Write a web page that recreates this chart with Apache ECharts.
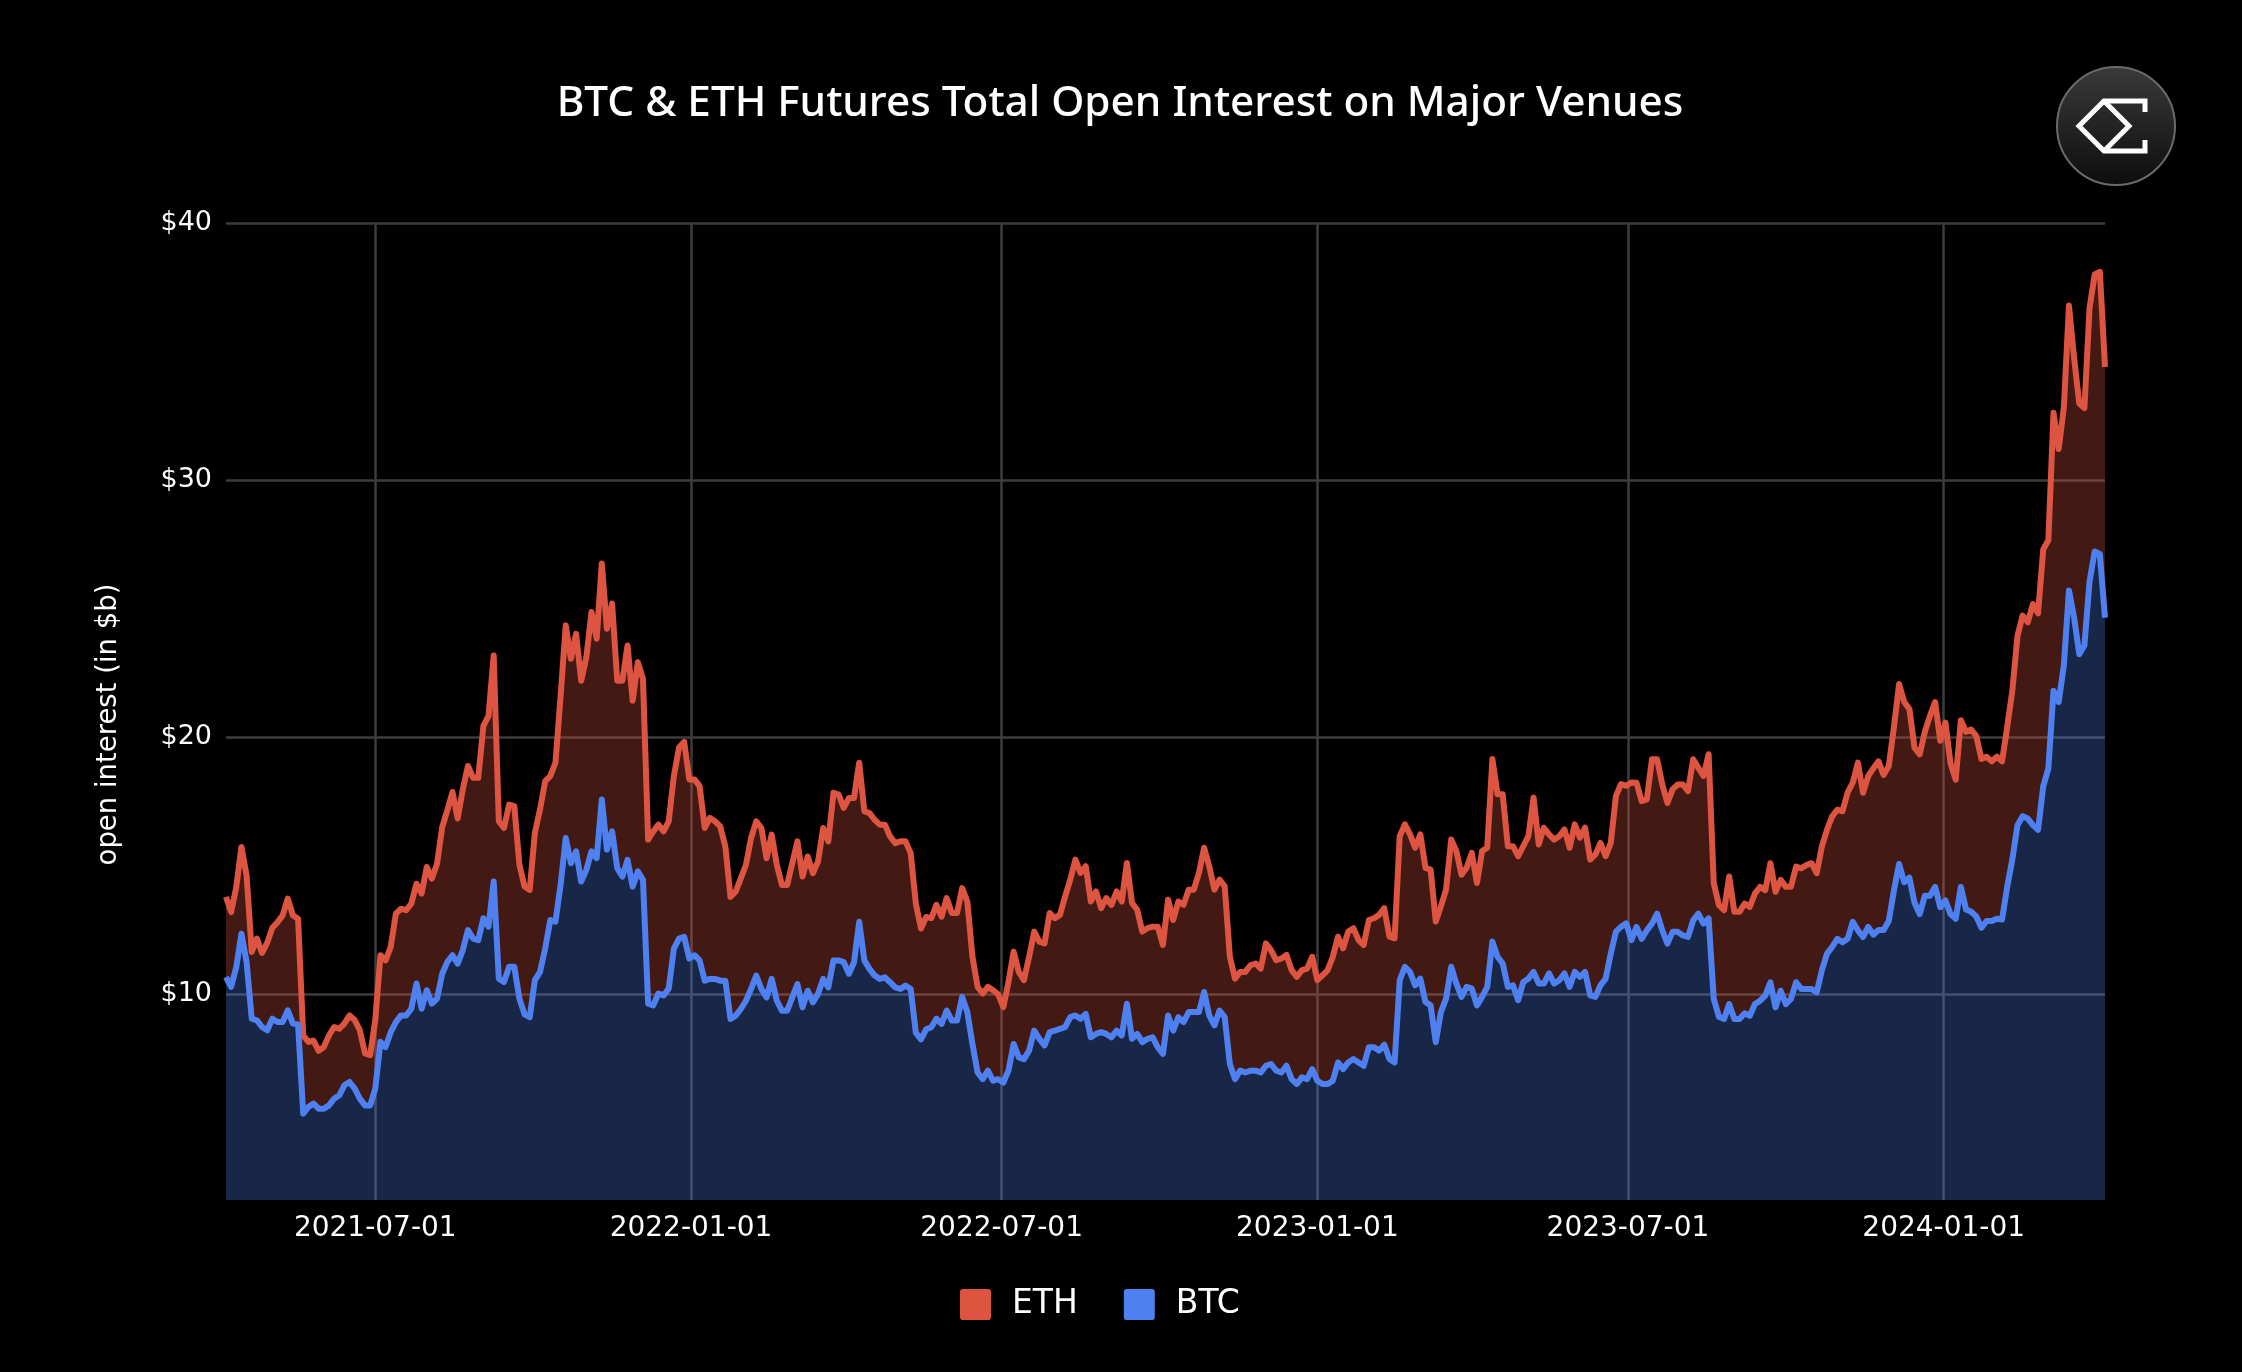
<!DOCTYPE html>
<html>
<head>
<meta charset="utf-8">
<style>html,body{margin:0;padding:0;background:#000}#c{width:2242px;height:1372px}</style>
<script src="https://cdn.jsdelivr.net/npm/echarts@6/dist/echarts.min.js"></script>
</head>
<body>
<div id="c"></div>
<script>
const titleText = 'BTC & ETH Futures Total Open Interest on Major Venues';
const yAxisName = 'open interest (in $b)';
const seriesNames = ['ETH', 'BTC'];
const xTickDates = ['2021-07-01','2022-01-01','2022-07-01','2023-01-01','2023-07-01','2024-01-01'];
const yTickValues = [10, 20, 30, 40];
const firstDate = '2021-04-05';
const sampleStepDays = 3;

// top of the stack ($b)
const stackTop = [
13.79,13.2,14.18,15.73,14.63,11.65,12.17,11.61,12.0,12.59,12.8,13.07,13.72,13.07,12.94,8.4,8.15,8.2,7.8,7.95,8.4,8.73,8.66,8.86,9.18,9.0,8.6,7.7,7.63,9.0,11.52,11.32,11.84,13.14,13.33,13.27,13.53,14.3,13.92,14.95,14.5,15.08,16.5,17.16,17.87,16.84,
17.97,18.88,18.42,18.42,20.44,20.83,23.18,16.73,16.47,17.38,17.32,15.04,14.19,14.06,16.28,17.19,18.29,18.49,19.01,21.61,24.35,23.05,24.02,22.2,23.11,24.87,23.83,26.76,24.22,25.2,22.2,22.2,23.57,21.42,22.92,22.27,16.02,16.34,16.6,16.34,16.73,18.49,19.6,19.82,18.36,18.36,
18.1,16.47,16.86,16.73,16.53,15.75,13.79,13.99,14.51,15.03,16.08,16.73,16.47,15.29,16.21,15.03,14.25,14.25,15.1,15.95,14.58,15.36,14.71,15.16,16.47,15.95,17.84,17.77,17.25,17.64,17.64,19.01,17.12,17.05,16.79,16.6,16.6,16.14,15.88,15.95,15.95,15.49,13.53,12.56,13.01,
12.96,13.48,13.02,13.74,13.16,13.16,14.13,13.61,11.46,10.29,10.03,10.29,10.16,10,9.5,10.48,11.66,10.87,10.55,11.46,12.44,12.05,11.98,13.16,12.96,13.09,13.81,14.46,15.24,14.72,14.98,13.61,14.0,13.35,13.74,13.48,14.0,13.61,15.11,13.55,13.29,12.44,12.57,12.63,12.63,11.92,
13.68,12.89,13.61,13.48,14.07,14.07,14.72,15.7,14.98,14.07,14.46,14.2,11.46,10.61,10.87,10.87,11.13,11.2,11.0,11.98,11.72,11.33,11.39,11.53,10.94,10.68,10.94,11.0,11.46,10.55,10.74,10.94,11.46,12.24,11.79,12.44,12.57,12.11,11.92,12.89,12.96,13.09,13.35,12.24,12.18,16.15,
16.61,16.22,15.7,16.22,14.92,14.85,12.83,13.42,14.07,16.02,15.57,14.65,14.92,15.5,14.33,15.57,15.7,19.15,17.78,17.78,15.76,15.76,15.37,15.76,16.15,17.65,15.83,16.48,16.22,16.02,16.15,16.41,15.7,16.61,16.09,16.48,15.24,15.44,15.89,15.37,15.89,17.72,18.18,18.11,18.24,
18.23,17.51,17.58,19.14,19.14,18.16,17.44,17.97,18.16,18.16,17.9,19.14,18.81,18.49,19.34,14.32,13.47,13.27,14.58,13.21,13.21,13.53,13.4,13.92,14.18,14.05,15.1,13.99,14.45,14.18,14.18,14.97,14.9,15.03,15.1,14.71,15.75,16.4,16.92,17.18,17.12,17.84,18.23,19.01,17.84,18.49,
18.79,19.06,18.53,18.88,20.39,22.07,21.37,21.1,19.59,19.33,20.21,20.83,21.37,19.86,20.57,18.97,18.35,20.66,20.21,20.3,20.04,19.15,19.24,19.06,19.24,19.06,20.39,21.81,23.94,24.73,24.47,25.18,24.82,27.3,27.66,32.62,31.21,32.8,36.79,34.75,32.98,32.8,36.7,38.0,38.1,34.4
];

const btcValues = [
10.67,10.29,11.06,12.36,11.26,9.05,8.99,8.73,8.6,9.05,8.92,8.92,9.38,8.86,8.83,5.36,5.62,5.75,5.55,5.55,5.68,5.94,6.07,6.46,6.59,6.33,5.94,5.68,5.68,6.33,8.15,7.95,8.53,8.92,9.18,9.18,9.44,10.42,9.44,10.16,9.64,9.83,10.8,11.26,11.52,11.19,
11.72,12.5,12.17,12.11,12.96,12.63,14.39,10.61,10.48,11.07,11.07,9.83,9.22,9.11,10.55,10.87,11.78,12.89,12.83,14.26,16.08,15.1,15.56,14.39,14.84,15.56,15.3,17.58,15.63,16.34,14.91,14.58,15.23,14.19,14.78,14.45,9.64,9.57,10.03,9.96,10.22,11.78,12.17,12.24,11.39,11.52,
11.32,10.53,10.6,10.6,10.53,10.53,9.04,9.17,9.43,9.75,10.21,10.73,10.21,9.88,10.6,9.75,9.36,9.36,9.88,10.4,9.49,10.14,9.69,10.01,10.6,10.27,11.32,11.32,11.25,10.8,11.25,12.82,11.32,10.99,10.73,10.6,10.66,10.47,10.27,10.21,10.34,10.21,8.51,8.25,8.64,
8.72,9.05,8.85,9.37,8.98,8.98,9.9,9.31,8.07,6.96,6.7,7.03,6.64,6.7,6.57,7.03,8.07,7.55,7.48,7.81,8.59,8.27,8.01,8.53,8.59,8.66,8.72,9.11,9.18,9.05,9.24,8.33,8.46,8.53,8.46,8.33,8.59,8.4,9.63,8.27,8.46,8.14,8.27,8.33,7.94,7.68,
9.18,8.59,9.11,8.92,9.31,9.31,9.31,10.09,9.18,8.79,9.37,9.11,7.29,6.7,7.03,6.96,7.03,7.03,6.96,7.22,7.29,7.03,6.96,7.22,6.7,6.51,6.77,6.7,7.09,6.64,6.51,6.51,6.64,7.35,7.09,7.35,7.48,7.35,7.22,7.94,7.94,7.81,8.04,7.48,7.35,10.55,
11.07,10.87,10.35,10.61,9.7,9.57,8.14,9.31,9.83,11.07,10.42,9.9,10.29,10.22,9.57,9.9,10.29,12.05,11.46,11.2,10.29,10.35,9.77,10.48,10.61,10.87,10.42,10.42,10.81,10.42,10.55,10.81,10.29,10.87,10.68,10.87,9.96,9.9,10.35,10.61,11.59,12.44,12.63,12.76,12.11,
12.62,12.16,12.49,12.75,13.14,12.49,11.97,12.43,12.43,12.29,12.23,12.88,13.14,12.75,12.95,9.82,9.13,9.04,9.62,9.04,9.04,9.26,9.17,9.62,9.75,9.95,10.47,9.49,10.14,9.62,9.82,10.47,10.21,10.21,10.21,10.08,10.93,11.58,11.84,12.16,12.03,12.16,12.82,12.49,12.23,12.62,
12.32,12.5,12.5,12.85,14.04,15.07,14.36,14.54,13.56,13.12,13.83,13.83,14.18,13.39,13.65,13.12,12.94,14.18,13.3,13.21,13.03,12.59,12.85,12.85,12.94,12.91,14.18,15.25,16.58,16.93,16.84,16.58,16.4,18.09,18.79,21.81,21.37,22.78,25.71,24.65,23.23,23.58,26.06,27.22,27.13,24.65
];

const DAY = 86400000;
const t0 = Date.parse(firstDate + 'T00:00:00Z');
const dates = btcValues.map((_, i) => t0 + i * sampleStepDays * DAY);
const ethValues = stackTop.map((v, i) => +(v - btcValues[i]).toFixed(2));
const toTs = s => Date.parse(s + 'T00:00:00Z');

const ETH_COLOR = '#DD5441', BTC_COLOR = '#4F80EF';
const chart = echarts.init(document.getElementById('c'), null, {renderer:'canvas', width:2242, height:1372});
const cx = 2116, cy = 126;
chart.setOption({
  animation: false,
  backgroundColor: '#000',
  title: {
    text: titleText, left: 1115, top: 78, textAlign: 'center',
    textStyle: {color:'#fff', fontFamily:'"Noto Sans"', fontSize:42.3, fontWeight:500}
  },
  legend: {
    data: seriesNames, left: 955, top: 1283, selectedMode: false,
    itemWidth: 31, itemHeight: 31, itemGap: 46,
    icon: 'path://M2,0H18A2,2,0,0,1,20,2V18A2,2,0,0,1,18,20H2A2,2,0,0,1,0,18V2A2,2,0,0,1,2,0Z',
    textStyle: {color:'#fff', fontFamily:'"DejaVu Sans"', fontSize:33, padding:[0,0,0,16]}
  },
  grid: {left:226, right:137, top:223, bottom:172},
  xAxis: {
    type:'value', min:dates[0], max:dates[dates.length-1], scale:true,
    axisLine:{show:false}, axisTick:{show:false, customValues:xTickDates.map(toTs)},
    axisLabel:{
      customValues:xTickDates.map(toTs), color:'#fff', fontFamily:'"DejaVu Sans"', fontSize:28, margin:15,
      hideOverlap:false,
      formatter:v => new Date(v).toISOString().slice(0,10)
    },
    splitLine:{show:true, lineStyle:{color:'#3D3D3D', width:2.5}}
  },
  yAxis: {
    type:'value', min:2, max:40,
    name:yAxisName, nameLocation:'middle', nameGap:103, nameRotate:90,
    nameTextStyle:{color:'#fff', fontFamily:'"DejaVu Sans"', fontSize:27.5, padding:[0,26,0,0]},
    axisLine:{show:false}, axisTick:{show:false, customValues:yTickValues},
    axisLabel:{customValues:yTickValues, color:'#fff', fontFamily:'"DejaVu Sans"', fontSize:27, margin:14, formatter:v => '$' + v},
    splitLine:{show:true, lineStyle:{color:'#3D3D3D', width:2.5}}
  },
  series: [
    {name:'BTC', type:'line', stack:'oi', encode:{x:1, y:0}, data:dates.map((d,i)=>[btcValues[i],d]), showSymbol:false, symbol:'none', z:3,
     itemStyle:{color:BTC_COLOR}, lineStyle:{color:BTC_COLOR, width:6, join:'round'}, areaStyle:{color:BTC_COLOR, opacity:0.3}},
    {name:'ETH', type:'line', stack:'oi', encode:{x:1, y:0}, data:dates.map((d,i)=>[ethValues[i],d]), showSymbol:false, symbol:'none', z:2,
     itemStyle:{color:ETH_COLOR}, lineStyle:{color:ETH_COLOR, width:6, join:'round'}, areaStyle:{color:ETH_COLOR, opacity:0.3}}
  ],
  graphic: [
    {type:'circle', shape:{cx:cx, cy:cy, r:59}, z:10, style:{
      fill:new echarts.graphic.LinearGradient(0,0,0,1,[{offset:0,color:'#3a3a3a'},{offset:1,color:'#0d0d0d'}]),
      stroke:'#6a6a6a', lineWidth:2}},
    {type:'polyline', z:11, shape:{points:[[cx+29,cy-14],[cx+29,cy-25],[cx-12,cy-25],[cx-37,cy],[cx-12,cy+25],[cx+29,cy+25],[cx+29,cy+14]]},
      style:{fill:'none', stroke:'#fff', lineWidth:5, lineJoin:'miter'}},
    {type:'polyline', z:11, shape:{points:[[cx-12,cy-25],[cx+13,cy],[cx-12,cy+25]]},
      style:{fill:'none', stroke:'#fff', lineWidth:5, lineJoin:'miter'}}
  ]
});
</script>
</body>
</html>
